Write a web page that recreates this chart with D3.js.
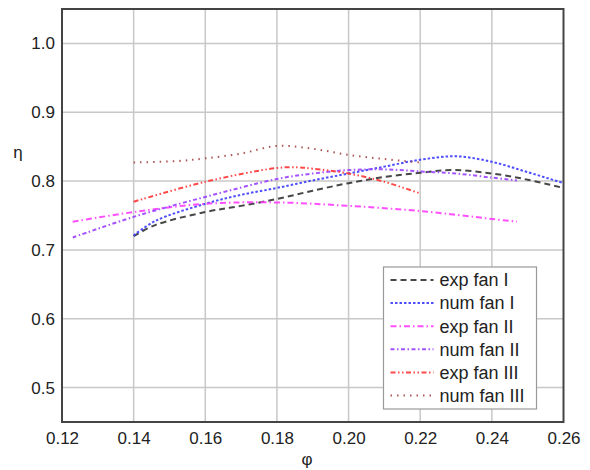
<!DOCTYPE html>
<html>
<head>
<meta charset="utf-8">
<script src="https://cdn.jsdelivr.net/npm/d3@7"></script>
<style>
  body { margin: 0; background: #fff; }
  svg { font-family: "Liberation Sans", Arial, sans-serif; }
  .axis text { font-size: 17px; fill: #222; }
  .axis path { display: none; }
</style>
</head>
<body>
<div id="chart"></div>
<script>
// flow coefficient phi / efficiency eta
var xTicks = [0.12, 0.14, 0.16, 0.18, 0.20, 0.22, 0.24, 0.26];
var yTicks = [0.5, 0.6, 0.7, 0.8, 0.9, 1.0];

var expFan1X = [0.14, 0.146, 0.16, 0.17, 0.18, 0.19, 0.20, 0.21, 0.22, 0.229, 0.24, 0.25, 0.26];
var expFan1Y = [0.720, 0.736, 0.755, 0.764, 0.774, 0.786, 0.797, 0.806, 0.812, 0.816, 0.811, 0.802, 0.790];

var numFan1X = [0.14, 0.146, 0.16, 0.17, 0.18, 0.19, 0.20, 0.21, 0.22, 0.23, 0.24, 0.25, 0.26];
var numFan1Y = [0.721, 0.742, 0.767, 0.780, 0.790, 0.801, 0.811, 0.821, 0.831, 0.836, 0.828, 0.813, 0.797];

var expFan2X = [0.123, 0.14, 0.16, 0.18, 0.20, 0.22, 0.24, 0.247];
var expFan2Y = [0.741, 0.755, 0.767, 0.769, 0.764, 0.7565, 0.745, 0.741];

var numFan2X = [0.123, 0.14, 0.16, 0.18, 0.19, 0.20, 0.21, 0.22, 0.23, 0.24, 0.247];
var numFan2Y = [0.718, 0.748, 0.777, 0.803, 0.811, 0.816, 0.817, 0.814, 0.811, 0.805, 0.801];

var expFan3X = [0.14, 0.16, 0.18, 0.186, 0.19, 0.20, 0.21, 0.22];
var expFan3Y = [0.770, 0.799, 0.819, 0.820, 0.818, 0.811, 0.799, 0.782];

var numFan3X = [0.14, 0.152, 0.16, 0.17, 0.18, 0.19, 0.20, 0.21, 0.22];
var numFan3Y = [0.827, 0.829, 0.833, 0.840, 0.851, 0.847, 0.838, 0.832, 0.827];

var seriesNames = ["exp fan I", "num fan I", "exp fan II", "num fan II", "exp fan III", "num fan III"];
var seriesColors = ["#333333", "#3b3bff", "#ff3cff", "#9a40ff", "#ff3535", "#a64545"];
var seriesDash = ["6,4", "2.5,2", "6,3,1.5,3", "4,2.5,1.5,2.5", "5,2.5,1.5,2.5,1.5,2.5", "1.5,5"];
var seriesX = [expFan1X, numFan1X, expFan2X, numFan2X, expFan3X, numFan3X];
var seriesY = [expFan1Y, numFan1Y, expFan2Y, numFan2Y, expFan3Y, numFan3Y];

var width = 590, height = 470;
var margin = {top: 9, right: 26.5, bottom: 48, left: 62};
var plotW = width - margin.left - margin.right;
var plotH = height - margin.top - margin.bottom;

var svg = d3.select("#chart").append("svg")
  .attr("width", width)
  .attr("height", height);
var g = svg.append("g").attr("transform", "translate(" + margin.left + "," + margin.top + ")");

var x = d3.scaleLinear().domain([0.12, 0.26]).range([0, plotW]);
var y = d3.scaleLinear().domain([0.45, 1.05]).range([plotH, 0]);

// grid
g.selectAll("line.vgrid")
  .data(xTicks.slice(1, -1))
  .enter().append("line")
  .attr("x1", function(d) { return x(d); })
  .attr("x2", function(d) { return x(d); })
  .attr("y1", 0).attr("y2", plotH)
  .attr("stroke", "#c8c8c8").attr("stroke-width", 1.5);
g.selectAll("line.hgrid")
  .data(yTicks)
  .enter().append("line")
  .attr("x1", 0).attr("x2", plotW)
  .attr("y1", function(d) { return y(d); })
  .attr("y2", function(d) { return y(d); })
  .attr("stroke", "#c8c8c8").attr("stroke-width", 1.5);

// axes
g.append("g")
  .attr("class", "axis")
  .attr("transform", "translate(0," + plotH + ")")
  .call(d3.axisBottom(x).tickValues(xTicks).tickSize(0).tickPadding(10).tickFormat(d3.format(".2f")));
g.append("g")
  .attr("class", "axis")
  .call(d3.axisLeft(y).tickValues(yTicks).tickSize(0).tickPadding(7).tickFormat(d3.format(".1f")));

// curves
var line = d3.line()
  .x(function(d) { return x(d[0]); })
  .y(function(d) { return y(d[1]); })
  .curve(d3.curveCatmullRom.alpha(0.5));

g.append("clipPath").attr("id", "clip")
  .append("rect").attr("width", plotW).attr("height", plotH);

seriesNames.forEach(function(name, i) {
  var pts = d3.zip(seriesX[i], seriesY[i]);
  g.append("path")
    .datum(pts)
    .attr("clip-path", "url(#clip)")
    .attr("fill", "none")
    .attr("stroke", seriesColors[i])
    .attr("stroke-width", 2)
    .attr("stroke-opacity", 0.9)
    .attr("stroke-dasharray", seriesDash[i])
    .attr("d", line);
});

// frame
g.append("rect")
  .attr("width", plotW).attr("height", plotH)
  .attr("fill", "none")
  .attr("stroke", "#444").attr("stroke-width", 2);

// legend
var leg = svg.append("g").attr("transform", "translate(383.5,267)");
leg.append("rect")
  .attr("width", 153).attr("height", 142)
  .attr("fill", "#fff")
  .attr("stroke", "#999").attr("stroke-width", 1.2);
seriesNames.forEach(function(name, i) {
  var yy = 13 + i * 23.1;
  leg.append("line")
    .attr("x1", 7).attr("x2", 50)
    .attr("y1", yy).attr("y2", yy)
    .attr("stroke", seriesColors[i])
    .attr("stroke-width", 2)
    .attr("stroke-opacity", 0.9)
    .attr("stroke-dasharray", seriesDash[i]);
  leg.append("text")
    .attr("x", 56).attr("y", yy)
    .attr("dy", "0.35em")
    .style("font-size", "18px")
    .style("fill", "#222")
    .text(name);
});

// axis titles
svg.append("text")
  .attr("x", 307).attr("y", 465)
  .attr("text-anchor", "middle")
  .style("font-size", "17px").style("fill", "#222")
  .text("φ");
svg.append("text")
  .attr("x", 18).attr("y", 158)
  .attr("text-anchor", "middle")
  .style("font-size", "17px").style("fill", "#222")
  .text("η");
</script>
</body>
</html>
